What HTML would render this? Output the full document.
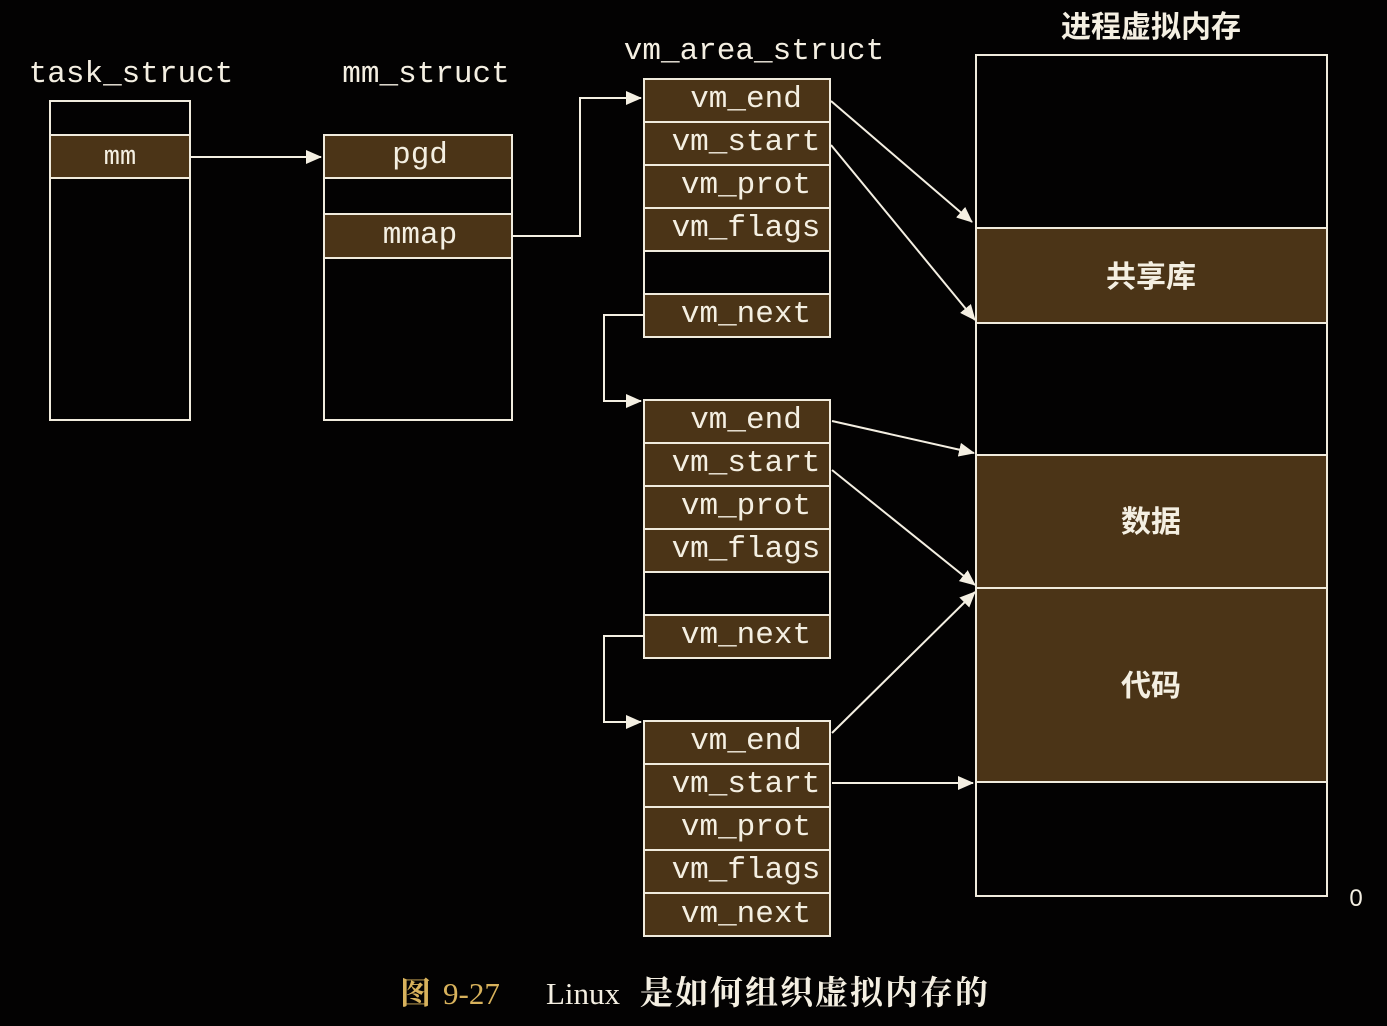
<!DOCTYPE html>
<html><head><meta charset="utf-8"><style>
html,body{margin:0;padding:0;background:#030202;}
svg{display:block}
text{font-family:"Liberation Mono",monospace;fill:#f4efe2;font-size:31px;}
.cj{font-family:"Liberation Sans","Noto Sans CJK SC",sans-serif;font-weight:bold;}
.cap{font-family:"Liberation Serif","Noto Serif CJK SC",serif;font-weight:bold;}
</style></head><body>
<svg width="1387" height="1026" viewBox="0 0 1387 1026" xmlns="http://www.w3.org/2000/svg">
<defs>
<marker id="a" markerWidth="16" markerHeight="14" refX="15" refY="7" orient="auto" markerUnits="userSpaceOnUse" viewBox="0 0 16 14">
<path d="M0,0 L16,7 L0,14 z" fill="#f4efe2"/></marker>
</defs>
<rect width="1387" height="1026" fill="#030202"/>
<g stroke="#f0ebdd" stroke-width="2">
<rect x="50" y="101" width="140" height="319" fill="none"/>
<rect x="50" y="135" width="140" height="43" fill="#4b3417"/>
<rect x="324" y="135" width="188" height="285" fill="none"/>
<rect x="324" y="135" width="188" height="43" fill="#4b3417"/>
<rect x="324" y="214" width="188" height="44" fill="#4b3417"/>
<rect x="644" y="79" width="186" height="43" fill="#4b3417"/>
<rect x="644" y="122" width="186" height="43" fill="#4b3417"/>
<rect x="644" y="165" width="186" height="43" fill="#4b3417"/>
<rect x="644" y="208" width="186" height="43" fill="#4b3417"/>
<rect x="644" y="251" width="186" height="43" fill="none"/>
<rect x="644" y="294" width="186" height="43" fill="#4b3417"/>
<rect x="644" y="400" width="186" height="43" fill="#4b3417"/>
<rect x="644" y="443" width="186" height="43" fill="#4b3417"/>
<rect x="644" y="486" width="186" height="43" fill="#4b3417"/>
<rect x="644" y="529" width="186" height="43" fill="#4b3417"/>
<rect x="644" y="572" width="186" height="43" fill="none"/>
<rect x="644" y="615" width="186" height="43" fill="#4b3417"/>
<rect x="644" y="721" width="186" height="43" fill="#4b3417"/>
<rect x="644" y="764" width="186" height="43" fill="#4b3417"/>
<rect x="644" y="807" width="186" height="43" fill="#4b3417"/>
<rect x="644" y="850" width="186" height="43" fill="#4b3417"/>
<rect x="644" y="893" width="186" height="43" fill="#4b3417"/>
<rect x="976" y="55" width="351" height="841" fill="none"/>
<rect x="976" y="228" width="351" height="95" fill="#4b3417"/>
<rect x="976" y="455" width="351" height="133" fill="#4b3417"/>
<rect x="976" y="588" width="351" height="194" fill="#4b3417"/>
</g>
<g stroke="#f4efe2" stroke-width="2" fill="none">
<path d="M190,157 H321" marker-end="url(#a)"/>
<path d="M512,236 H580 V98 H641" marker-end="url(#a)"/>
<path d="M644,315 H604 V401 H641" marker-end="url(#a)"/>
<path d="M644,636 H604 V722 H641" marker-end="url(#a)"/>
<path d="M831,101 L972,222" marker-end="url(#a)"/>
<path d="M831,145 L975,320" marker-end="url(#a)"/>
<path d="M832,421 L974,453" marker-end="url(#a)"/>
<path d="M832,470 L975,585" marker-end="url(#a)"/>
<path d="M832,733 L975,592" marker-end="url(#a)"/>
<path d="M832,783 L973,783" marker-end="url(#a)"/>
</g>
<text x="131" y="82" text-anchor="middle">task_struct</text>
<text x="426" y="82" text-anchor="middle">mm_struct</text>
<text x="754" y="59" text-anchor="middle">vm_area_struct</text>
<text x="120" y="164" text-anchor="middle" style="font-size:27px">mm</text>
<text x="420" y="163" text-anchor="middle">pgd</text>
<text x="420" y="243" text-anchor="middle">mmap</text>
<g text-anchor="middle">
<text x="746" y="107">vm_end</text>
<text x="746" y="150">vm_start</text>
<text x="746" y="193">vm_prot</text>
<text x="746" y="236">vm_flags</text>
<text x="746" y="322">vm_next</text>
<text x="746" y="428">vm_end</text>
<text x="746" y="471">vm_start</text>
<text x="746" y="514">vm_prot</text>
<text x="746" y="557">vm_flags</text>
<text x="746" y="643">vm_next</text>
<text x="746" y="749">vm_end</text>
<text x="746" y="792">vm_start</text>
<text x="746" y="835">vm_prot</text>
<text x="746" y="878">vm_flags</text>
<text x="746" y="922">vm_next</text>
</g>
<text class="cj" x="1151" y="37" text-anchor="middle" style="font-size:30px">进程虚拟内存</text>
<text class="cj" x="1151" y="287" text-anchor="middle" style="font-size:30px">共享库</text>
<text class="cj" x="1151" y="532" text-anchor="middle" style="font-size:30px">数据</text>
<text class="cj" x="1151" y="696" text-anchor="middle" style="font-size:30px">代码</text>
<text class="cj" x="1356" y="906" text-anchor="middle" style="font-size:24px;font-weight:normal">0</text>
<text class="cap" x="400" y="1004" style="font-size:31px;fill:#d8b25c">图</text>
<text class="cap" x="443" y="1004" style="font-size:31px;fill:#d8b25c;font-weight:normal">9-27</text>
<text class="cap" x="546" y="1004" style="font-size:31px;font-weight:normal">Linux</text>
<text class="cap" x="640" y="1004" style="font-size:33px;letter-spacing:2px">是如何组织虚拟内存的</text>
</svg>
</body></html>
